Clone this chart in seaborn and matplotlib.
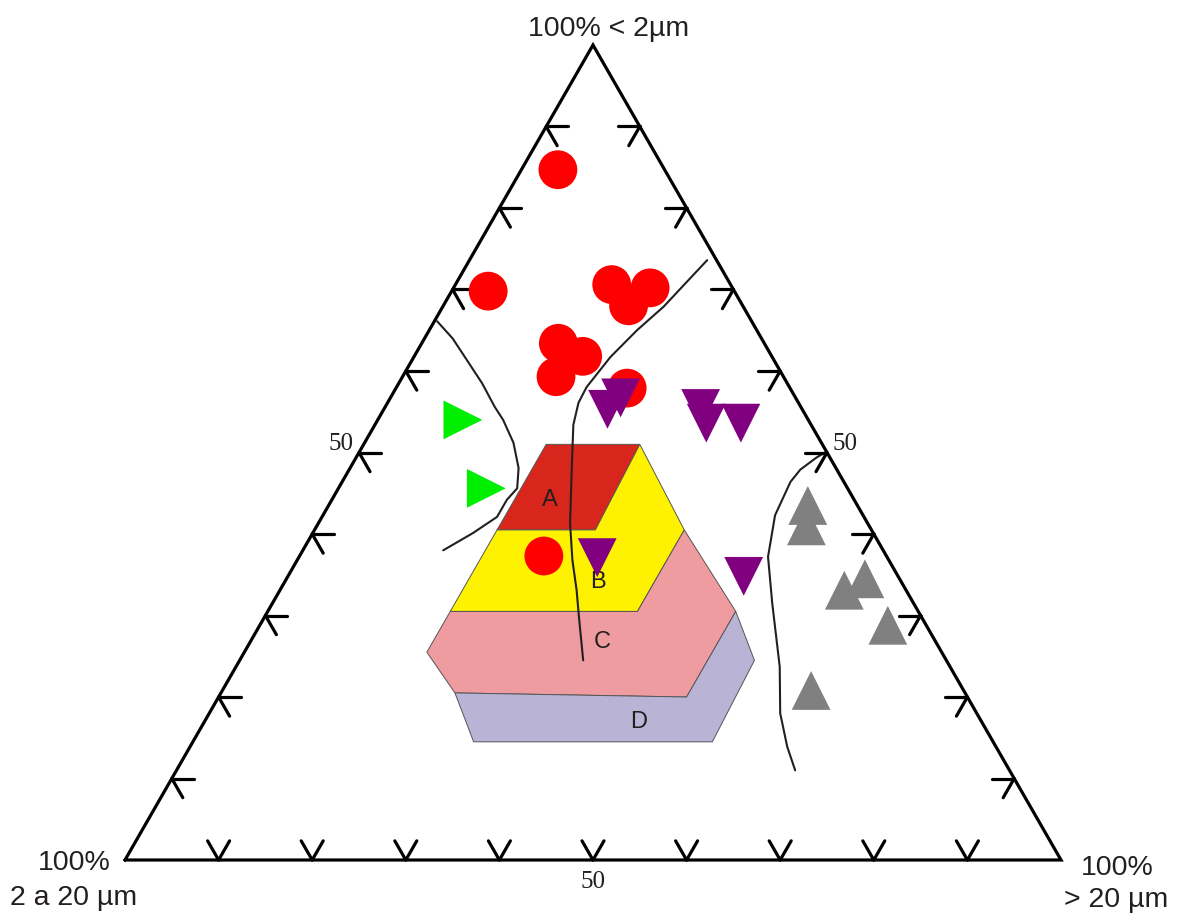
import numpy as np
import pandas as pd
import matplotlib.pyplot as plt
import seaborn as sns

# ---------------------------
# Data: ternary compositions (% < 2 um = clay, % > 20 um = sand, rest is 2-20 um)
# ---------------------------
red_clay = [84.7, 69.8, 70.6, 70.2, 68.0, 63.4, 61.8, 59.3, 57.9, 37.3]
red_sand = [3.9, 3.9, 16.7, 21.0, 19.8, 14.6, 18.0, 16.4, 24.7, 26.1]

purple_clay = [56.7, 55.3, 55.4, 53.6, 53.6, 37.1, 34.8]
purple_sand = [24.6, 23.9, 33.8, 35.3, 39.0, 31.9, 48.7]

green_clay = [54.0, 45.6]
green_sand = [9.1, 15.8]

gray_clay = [43.5, 41.0, 33.1, 34.5, 28.8, 20.8]
gray_sand = [51.2, 52.3, 60.3, 61.8, 67.1, 62.9]

# Winkler fields (clay, sand) vertices
field_names = ['A', 'B', 'C', 'D']
field_A = [(51, 19.5), (51, 29.5), (40.5, 30), (40.5, 19.5)]
field_B = [(40.5, 19.5), (40.5, 30), (51, 29.5), (40.5, 39.5), (30.5, 39.5), (30.5, 19.5)]
field_C = [(30.5, 19.5), (30.5, 39.5), (40.5, 39.5), (30.5, 50), (20, 50), (20.5, 25), (25.5, 19.5)]
field_D = [(20.5, 25), (20, 50), (30.5, 50), (24.5, 55), (14.5, 55.5), (14.5, 30)]
field_label_pos = [(44.2, 23.3), (34.1, 33.5), (26.7, 37.6), (16.9, 46.4)]
field_colors = ['#d9261c', '#fff200', '#ef9ca0', '#b9b3d6']

# boundary curves (clay, sand)
curve_left = [(66.1, 0.3), (64.0, 3.0), (61.3, 5.9), (58.5, 8.9), (55.6, 11.7), (54.0, 13.4),
              (51.2, 15.9), (48.1, 18.0), (45.6, 19.1), (44.2, 18.7), (42.1, 18.7), (40.1, 17.1),
              (38.0, 15.0)]
curve_mid = [(73.6, 25.4), (71.4, 24.7), (67.9, 23.6), (65.0, 22.2), (61.7, 21.0), (58.0, 20.3),
             (56.1, 20.4), (53.4, 21.2), (48.7, 23.4), (41.3, 26.9), (36.8, 29.4), (33.1, 31.7),
             (29.8, 33.6), (24.5, 36.7)]
curve_right = [(50.1, 49.9), (49.4, 49.2), (47.9, 48.2), (46.4, 47.9), (42.3, 48.3), (37.2, 50.1),
               (31.5, 53.4), (23.7, 58.1), (18.0, 61.0), (13.9, 63.8), (11.0, 66.1)]

tick_values = [10, 20, 30, 40, 50, 60, 70, 80, 90]

TXT = '#231f20'
SQ3 = np.sqrt(3) / 2


def to_xy(clay, sand):
    clay = np.asarray(clay, dtype=float)
    sand = np.asarray(sand, dtype=float)
    return sand + clay / 2, clay * SQ3


# ---------------------------
# Figure
# ---------------------------
sns.set_style('white')
fig = plt.figure(figsize=(11.81, 9.16), dpi=100)
ax = fig.add_axes([0, 0, 1, 1])

# fields
for name, poly, col, lp in zip(field_names, [field_A, field_B, field_C, field_D],
                               field_colors, field_label_pos):
    c, s = zip(*poly)
    px, py = to_xy(c, s)
    ax.fill(px, py, facecolor=col, edgecolor='#555555', linewidth=0.7, zorder=1)
    tx, ty = to_xy(*lp)
    ax.text(tx, ty, name, fontsize=17, family='Liberation Sans', color=TXT,
            ha='center', va='center', zorder=2)

# curves
for crv in [curve_left, curve_mid, curve_right]:
    c, s = zip(*crv)
    px, py = to_xy(c, s)
    ax.plot(px, py, color=TXT, linewidth=1.5, zorder=3)

# triangle frame
fx, fy = to_xy([0, 100, 0, 0], [0, 0, 100, 0])
ax.plot(fx, fy, color='black', linewidth=2.3, solid_joinstyle='miter', zorder=3)

# tick marks
L = 2.35
for v in tick_values:
    # left edge (sand = 0)
    for c2, s2 in [(v, L), (v - L, L)]:
        px, py = to_xy([v, c2], [0, s2])
        ax.plot(px, py, color='black', linewidth=2.3, zorder=3)
    # right edge (silt = 0)
    for c2, s2 in [(v, 100 - v - L), (v - L, 100 - v)]:
        px, py = to_xy([v, c2], [100 - v, s2])
        ax.plot(px, py, color='black', linewidth=2.3, zorder=3)
    # bottom edge (clay = 0)
    for c2, s2 in [(L, v - L), (L, v)]:
        px, py = to_xy([0, c2], [v, s2])
        ax.plot(px, py, color='black', linewidth=2.3, zorder=3)

# "50" labels
for pt, off in [((50, 0), (-18, 9)), ((50, 50), (18, 9)), ((0, 50), (0, -22))]:
    ax.annotate('50', xy=to_xy(*pt), xytext=off, textcoords='offset pixels',
                fontsize=18, family='Liberation Serif', color=TXT,
                ha='center', va='center')

# samples
df = pd.DataFrame({
    'clay': red_clay + purple_clay + green_clay + gray_clay,
    'sand': red_sand + purple_sand + green_sand + gray_sand,
    'group': ['red'] * len(red_clay) + ['purple'] * len(purple_clay)
             + ['green'] * len(green_clay) + ['gray'] * len(gray_clay),
})
df['silt'] = 100 - df['clay'] - df['sand']
df['x'], df['y'] = to_xy(df['clay'], df['sand'])

sns.scatterplot(data=df, x='x', y='y', hue='group', style='group',
                palette={'red': '#ff0000', 'purple': '#800080', 'green': '#00ee00', 'gray': '#808080'},
                markers={'red': 'o', 'purple': 'v', 'green': '>', 'gray': '^'},
                s=780, linewidth=0, legend=False, ax=ax, zorder=4)

# corner labels
ax.text(51.7, 87.56, '100% < 2µm', fontsize=20.5, family='Liberation Sans', color=TXT,
        ha='center', va='baseline')
ax.text(-5.45, -1.06, '100%', fontsize=20.5, family='Liberation Sans', color=TXT,
        ha='center', va='baseline')
ax.text(-5.45, -4.78, '2 a 20 µm', fontsize=20.5, family='Liberation Sans', color=TXT,
        ha='center', va='baseline')
ax.text(106.0, -1.59, '100%', fontsize=20.5, family='Liberation Sans', color=TXT,
        ha='center', va='baseline')
ax.text(105.9, -5.0, '> 20 µm', fontsize=20.5, family='Liberation Sans', color=TXT,
        ha='center', va='baseline')

ax.set_xlim(-125 / 9.36, (1181 - 125) / 9.36)
ax.set_ylim(-56 / 9.411, 100 * SQ3 + 45 / 9.411)
ax.axis('off')

fig.savefig('out.png', dpi=100)
